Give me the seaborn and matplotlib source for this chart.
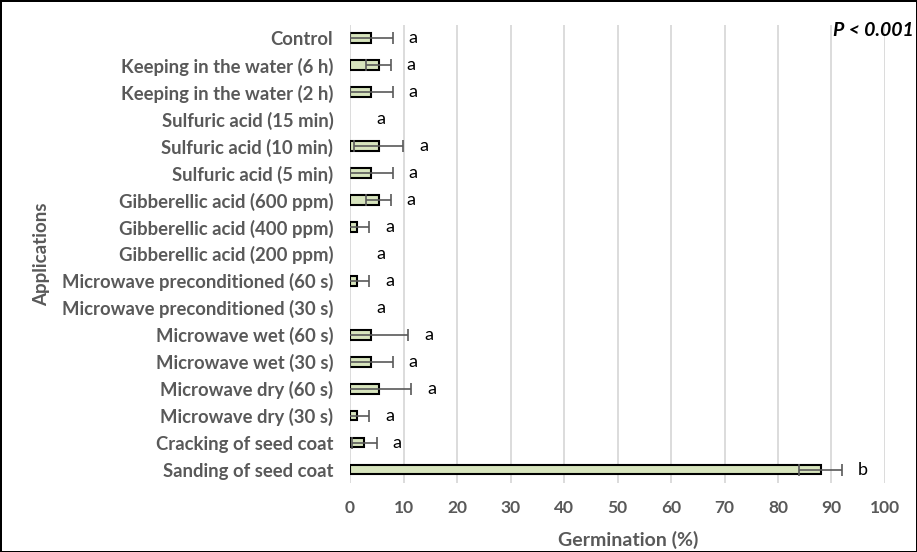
import numpy as np
import pandas as pd
import seaborn as sns
import matplotlib.pyplot as plt

applications = ["Control", "Keeping in the water (6 h)", "Keeping in the water (2 h)",
                "Sulfuric acid (15 min)", "Sulfuric acid (10 min)", "Sulfuric acid (5 min)",
                "Gibberellic acid (600 ppm)", "Gibberellic acid (400 ppm)", "Gibberellic acid (200 ppm)",
                "Microwave preconditioned (60 s)", "Microwave preconditioned (30 s)",
                "Microwave wet (60 s)", "Microwave wet (30 s)", "Microwave dry (60 s)",
                "Microwave dry (30 s)", "Cracking of seed coat", "Sanding of seed coat"]
germination = [4.0, 5.33, 4.0, 0.0, 5.33, 4.0, 5.33, 1.33, 0.0, 1.33, 0.0,
               4.0, 4.0, 5.33, 1.33, 2.67, 88.0]
sd = [4.0, 2.31, 4.0, 0.0, 4.62, 4.0, 2.31, 2.31, 0.0, 2.31, 0.0,
      6.93, 4.0, 6.11, 2.31, 2.31, 4.0]
letters = ["a"] * 16 + ["b"]

df = pd.DataFrame({"Applications": applications, "Germination": germination, "sd": sd})
df["pos"] = np.arange(len(df))

sns.set_style("white")
plt.rcParams['font.family'] = ['Lato', 'DejaVu Sans']

fig = plt.figure(figsize=(9.17, 5.52), dpi=100)
fig.patch.set_edgecolor("black")
fig.patch.set_linewidth(2)
ax = fig.add_axes([0.3817, 0.125, 0.5834, 0.83])

sns.barplot(data=df, x="Germination", y="Applications", orient="h", ax=ax,
            color="#D7E4BD", saturation=1, edgecolor="black", linewidth=1.5,
            width=0.36, errorbar=None, zorder=2)
for p in ax.patches:
    if p.get_width() == 0:
        p.set_linewidth(0)
# error bars only where there is a spread (no caps at zero)
err = df[df["sd"] > 0]
ax.errorbar(err["Germination"], err["pos"], xerr=err["sd"], fmt="none",
            ecolor="#595959", elinewidth=1.2, capsize=4, capthick=1.2, zorder=3)

for i, (v, e, lab) in enumerate(zip(germination, sd, letters)):
    x = max(v + e, 2.0) + 3.8
    ax.text(x, i, lab, ha="center", va="center", fontsize=13, color="black")

ax.set_xlim(0, 100)
ax.set_ylim(16.5, -0.5)
ax.set_xticks(range(0, 101, 10))
ax.grid(axis="x", color="#D9D9D9", linewidth=1.3, zorder=0)
ax.set_axisbelow(True)
for s in ax.spines.values():
    s.set_visible(False)
ax.tick_params(axis="both", length=0)
ax.tick_params(axis="x", pad=12)
ax.tick_params(axis="y", pad=12)
for t in ax.get_xticklabels():
    t.set_fontweight("bold")
    t.set_color("#595959")
    t.set_fontsize(12.5)
for t in ax.get_yticklabels():
    t.set_fontweight("bold")
    t.set_color("#595959")
    t.set_fontsize(13.3)
ax.set_xlabel("Germination (%)", fontsize=14, fontweight="bold", color="#595959", labelpad=12)
ax.xaxis.set_label_coords(0.52, -0.105)
ax.set_ylabel("Applications", fontsize=13.5, fontweight="bold", color="#595959")
ax.yaxis.set_label_coords(-0.56, 0.5)

fig.text(0.997, 0.945, "P < 0.001", ha="right", va="center", fontsize=14,
         fontweight="bold", fontstyle="italic", color="black")

fig.savefig("out.png", dpi=100)
